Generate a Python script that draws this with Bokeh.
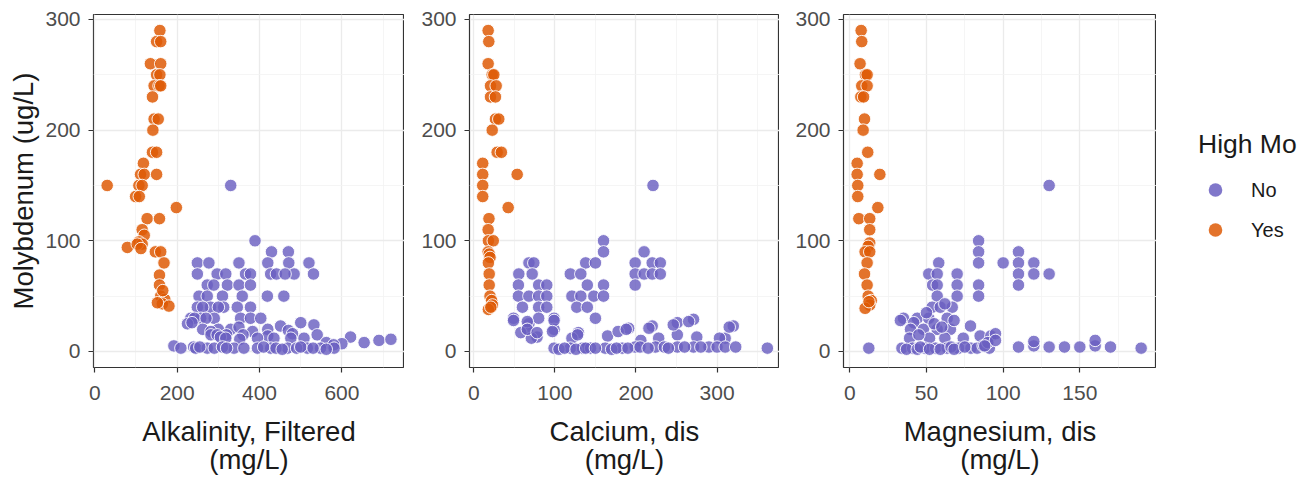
from bokeh.plotting import figure
from bokeh.models import Range1d, FixedTicker, Legend, LegendItem
from bokeh.layouts import row
from bokeh.embed import file_html
from bokeh.resources import INLINE

# ---------------- data ----------------
# Panel 1: Alkalinity, Filtered (mg/L) vs Molybdenum (ug/L)
alk_yes_x = [158, 150, 160, 135, 160, 150, 158, 144, 156, 160, 140, 144, 154, 141, 140, 150,
             118, 111, 120, 150, 30, 107, 115, 99, 108, 198, 127, 157, 115, 120, 79, 107, 115,
             103, 112, 147, 160, 168, 157, 157, 160, 170, 164, 180, 152, 165]
alk_yes_y = [290, 280, 280, 260, 260, 250, 250, 240, 240, 240, 230, 210, 210, 200, 180, 180,
             170, 160, 160, 160, 150, 150, 150, 140, 140, 130, 120, 120, 110, 105, 94, 99, 97,
             97, 93, 90, 90, 80, 69, 60, 50, 47, 43, 41, 44, 55]
alk_no_x = [330, 389, 429, 470,
            249, 277, 350, 420, 471, 520,
            249, 297, 318, 366, 378, 427, 441, 484, 531, 462,
            273, 289, 322, 350, 378,
            253, 273, 310, 358, 419, 459,
            249, 281, 313, 346, 378, 262, 300,
            233, 257, 290, 354, 378, 403, 242, 270,
            225, 236, 300, 330, 350, 451, 500, 532, 383, 420, 470, 262, 282,
            320, 360, 420, 540, 480, 282, 297, 305,
            318, 395, 435, 476, 508, 621, 690, 719, 352,
            654, 562, 600, 580,
            192, 209, 240, 245, 273, 338, 362, 395, 427, 468, 516, 548, 581, 255, 290,
            310, 320, 410, 440, 455, 490, 500, 530, 562]
alk_no_y = [150, 100, 90, 90,
            80, 80, 80, 80, 80, 80,
            70, 70, 70, 70, 70, 70, 70, 70, 70, 70,
            60, 60, 60, 60, 60,
            50, 50, 50, 50, 50, 50,
            40, 40, 40, 40, 40, 40, 40,
            30, 30, 30, 30, 30, 30, 30, 30,
            25, 26, 20, 20, 22, 23, 26, 24, 18, 20, 19, 20, 18,
            15, 15, 14, 15, 16, 15, 15, 13,
            12, 12, 12, 12, 12, 13, 10, 11, 11,
            8, 8, 7, 6,
            5, 3, 4, 3, 3, 3, 3, 3, 3, 3, 3, 3, 3, 4, 3,
            4, 3, 4, 3, 2, 3, 4, 3, 2]

# Panel 2: Calcium, dis (mg/L)
ca_yes_x = [17.7, 18.5, 17.7, 22.7, 24.7, 20.6, 27.6, 20.6, 26.7, 26.7, 30.8, 22.7, 28.8, 34,
            11, 11, 53.5, 11, 11, 42.4, 18.7, 17.7, 18, 24, 17.7, 19, 20, 18, 19, 19, 20, 22,
            23, 18, 21]
ca_yes_y = [290, 280, 260, 250, 250, 240, 240, 230, 230, 210, 210, 200, 180, 180,
            170, 160, 160, 150, 140, 130, 120, 110, 100, 100, 90, 88, 85, 80, 70, 60, 50, 46,
            42, 38, 40]
ca_no_x = [221, 160, 160, 138, 150, 68, 74, 55.5, 72, 119, 132,
           210, 199, 220, 230, 199, 210, 220, 230, 199,
           55, 80, 90, 140, 160,
           55, 68, 80, 90, 121, 132, 148, 160,
           60, 80, 90, 127, 140,
           150, 49, 68, 80, 99, 66, 78, 99, 129,
           191, 220, 251, 271, 320, 251, 310,
           49, 66, 58, 71, 66, 78, 99, 97,
           121, 128, 165, 178, 188, 206, 216, 228, 246, 265, 275, 315, 303,
           99, 119, 134, 144, 162, 183, 199, 224, 251, 271, 290, 300, 310, 323, 362,
           105, 112, 126, 138, 150, 170, 176, 190, 205, 215, 235, 240, 260, 280]
ca_no_y = [150, 100, 90, 80, 80, 80, 80, 70, 70, 70, 70,
           90, 80, 80, 80, 70, 70, 70, 70, 60,
           60, 60, 60, 60, 60,
           50, 50, 50, 50, 50, 50, 50, 50,
           40, 40, 40, 40, 40,
           30, 30, 25, 30, 30, 20, 13, 20, 17,
           21, 23, 26, 29, 23, 15, 12,
           28, 27, 17, 12, 20, 17, 28, 18,
           12, 15, 14, 18, 20, 10, 21, 12, 24, 27, 13, 22, 12,
           3, 3, 3, 3, 3, 3, 4, 4, 4, 4, 4, 4, 4, 4, 3,
           2, 3, 2, 3, 3, 2, 3, 3, 4, 3, 4, 3, 4, 4]

# Panel 3: Magnesium, dis (mg/L)
mg_yes_x = [7.4, 7.8, 6.7, 10.2, 11.3, 7.8, 11.3, 7.2, 9, 9.6, 8.7, 11.7, 4.8, 4.8, 19.6, 5.2,
            5.2, 18.3, 5.9, 13, 13, 13, 12, 10, 13, 11.3, 9.6, 11.3, 12, 14, 13, 10, 12.5]
mg_yes_y = [290, 280, 260, 250, 250, 240, 240, 230, 230, 210, 200, 180, 170, 160, 160, 150,
            140, 130, 120, 120, 110, 98, 95, 90, 90, 80, 70, 60, 50, 46, 42, 39, 45]
mg_no_x = [130, 12.4, 84, 84, 84, 100, 110, 110, 120, 110, 120, 130, 110, 84, 84,
           58, 51.5, 57, 70, 54, 57, 70, 57, 70, 53.7, 59, 66.8, 62,
           35, 44, 51.5, 63.5, 33, 41.7, 78.7, 39.6, 48, 57, 65.6,
           74, 85, 92, 95, 39, 52, 62, 45, 55, 60, 68, 50,
           34, 41, 49, 56, 63.5, 71, 79, 83, 91, 37, 44, 46, 52, 59, 66, 68, 75, 87,
           110, 120, 130, 140, 150, 160, 170, 190, 120, 160, 90, 95, 88]
mg_no_y = [150, 3, 100, 90, 80, 80, 90, 80, 80, 70, 70, 70, 60, 60, 50,
           80, 70, 70, 70, 60, 60, 60, 50, 50, 40, 40, 40, 43,
           30, 30, 30, 30, 28, 26, 23, 20, 20, 20, 20,
           12, 14, 14, 16, 12, 12, 12, 15, 25, 22, 28, 35,
           3, 3, 3, 3, 3, 3, 3, 3, 3, 2, 2, 4, 2, 2, 4, 2, 4, 5,
           4, 5, 4, 4, 4, 5, 4, 3, 9, 10, 8, 10, 5]

groups = ["No", "Yes"]
y_ticks = [0, 100, 200, 300]
y_minor = [50, 150, 250]

# ---------------- styling ----------------
PURPLE = "#6A5FC1"
ORANGE = "#DE5A06"
FONT = "Liberation Sans"
H = 479


def panel(x_no, y_no, x_yes, y_yes, xlabel, xr, ticks, minor, width, bl, ylabel=None):
    p = figure(width=width, height=H, x_range=Range1d(*xr), y_range=Range1d(-14.5, 304.5),
               output_backend="svg", toolbar_location=None,
               min_border_left=bl, min_border_right=0, min_border_top=14, min_border_bottom=112)
    p.background_fill_color = "white"
    p.border_fill_color = "white"
    p.outline_line_color = "#333333"
    p.outline_line_width = 1.2
    p.xaxis.ticker = FixedTicker(ticks=ticks, minor_ticks=minor)
    p.yaxis.ticker = FixedTicker(ticks=y_ticks, minor_ticks=y_minor)
    for g in p.grid:
        g.grid_line_color = "#EBEBEB"
        g.grid_line_width = 1.3
        g.minor_grid_line_color = "#F2F2F2"
        g.minor_grid_line_width = 0.8
    for ax in p.axis:
        ax.axis_line_color = None
        ax.major_tick_line_color = "#333333"
        ax.major_tick_line_width = 1.2
        ax.major_tick_in = 0
        ax.major_tick_out = 5
        ax.minor_tick_line_color = None
        ax.major_label_text_font = FONT
        ax.major_label_text_font_size = "21px"
        ax.major_label_text_color = "#4D4D4D"
        ax.axis_label_text_font = FONT
        ax.axis_label_text_font_size = "27.5px"
        ax.axis_label_text_font_style = "normal"
        ax.axis_label_text_color = "#1A1A1A"
    p.xaxis.major_label_standoff = 13
    p.yaxis.major_label_standoff = 8
    p.xaxis.axis_label = xlabel
    p.xaxis.axis_label_standoff = 13
    p.xaxis.axis_label_text_line_height = 0.93
    if ylabel:
        p.yaxis.axis_label = ylabel
        p.yaxis.axis_label_standoff = 3
    p.scatter(x_no, y_no, size=12.5, fill_color=PURPLE, fill_alpha=0.82,
              line_color="white", line_width=0.9)
    p.scatter(x_yes, y_yes, size=12.5, fill_color=ORANGE, fill_alpha=0.85,
              line_color="white", line_width=0.9)
    return p


p1 = panel(alk_no_x, alk_no_y, alk_yes_x, alk_yes_y, "Alkalinity, Filtered\n(mg/L)",
           (-3.2, 752), [0, 200, 400, 600], [100, 300, 500, 700], 404, 93,
           ylabel="Molybdenum (ug/L)")
p2 = panel(ca_no_x, ca_no_y, ca_yes_x, ca_yes_y, "Calcium, dis\n(mg/L)",
           (-5.3, 377), [0, 100, 200, 300], [50, 150, 250, 350], 375, 65)
p3 = panel(mg_no_x, mg_no_y, mg_yes_x, mg_yes_y, "Magnesium, dis\n(mg/L)",
           (-4.1, 200), [0, 50, 100, 150], [25, 75, 125, 175], 377, 64)

# legend panel
pl = figure(width=146, height=476, x_range=Range1d(0, 1), y_range=Range1d(0, 1),
            output_backend="svg", toolbar_location=None, min_border=0,
            x_axis_location=None, y_axis_location=None)
pl.grid.visible = False
pl.outline_line_color = None
# keys for the legend only (placed outside the visible range)
r_no = pl.scatter([-1], [-1], fill_color=PURPLE, fill_alpha=0.85, line_color=None)
r_yes = pl.scatter([-1], [-1], fill_color=ORANGE, fill_alpha=0.85, line_color=None)
leg = Legend(items=[LegendItem(label=groups[0], renderers=[r_no]),
                    LegendItem(label=groups[1], renderers=[r_yes])],
             location="center_left", title="High Mo",
             padding=0, margin=42, spacing=0, border_line_color=None,
             background_fill_alpha=0,
             glyph_width=34, glyph_height=40, label_height=40, label_standoff=19,
             label_text_font=FONT, label_text_font_size="20px", label_text_color="#1A1A1A",
             title_text_font=FONT, title_text_font_size="26.5px", title_text_font_style="normal",
             title_text_color="#1A1A1A", title_standoff=10)
pl.add_layout(leg)

layout = row(p1, p2, p3, pl)
open("out.html", "w").write(file_html(layout, INLINE))
